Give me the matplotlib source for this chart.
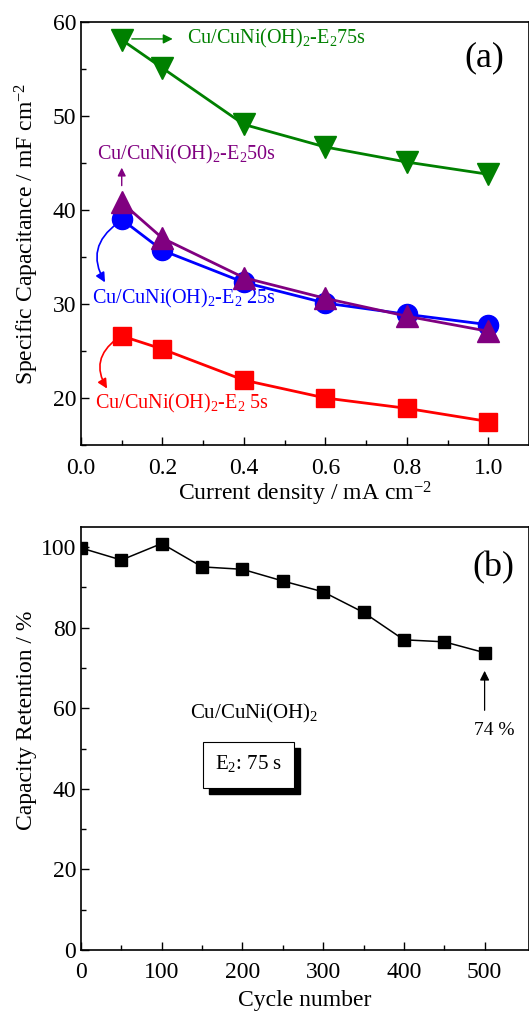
import matplotlib
matplotlib.use("Agg")
import matplotlib.pyplot as plt
from matplotlib.patches import Rectangle

plt.rcParams['font.family'] = ['Liberation Serif', 'DejaVu Serif']
plt.rcParams['mathtext.fontset'] = 'custom'
plt.rcParams['mathtext.rm'] = 'Liberation Serif'
plt.rcParams['mathtext.it'] = 'Liberation Serif:italic'
plt.rcParams['mathtext.bf'] = 'Liberation Serif:bold'

# ---- Data (a) ----
current_density = [0.1, 0.2, 0.4, 0.6, 0.8, 1.0]
cap_5s = [26.6, 25.2, 21.9, 20.0, 18.9, 17.5]
cap_25s = [39.0, 35.7, 32.3, 30.1, 28.9, 27.8]
cap_50s = [40.8, 37.0, 32.8, 30.6, 28.7, 27.1]
cap_75s = [58.1, 55.1, 49.1, 46.7, 45.1, 43.8]

# ---- Data (b) ----
cycles = [0, 50, 100, 150, 200, 250, 300, 350, 400, 450, 500]
retention = [99.8, 96.8, 100.9, 95.1, 94.5, 91.6, 88.9, 83.8, 77.0, 76.5, 73.8]

W, H = 529, 1011
fig = plt.figure(figsize=(W / 100, H / 100), dpi=100)

def frac_axes(l, r, t, b):
    return fig.add_axes([l / W, 1 - b / H, (r - l) / W, (b - t) / H])

ax1 = frac_axes(81, 529, 22, 445)
ax2 = frac_axes(81, 529, 527, 950)

green = '#008000'
purple = '#800080'
blue = '#0000FF'
red = '#FF0000'

lw = 2.0
ax1.plot(current_density, cap_75s, '-', color=green, lw=lw, marker='v', ms=16.5, zorder=3)
ax1.plot(current_density, cap_5s, '-', color=red, lw=lw, marker='s', ms=12.5, zorder=3)
ax1.plot(current_density, cap_25s, '-', color=blue, lw=lw, marker='o', ms=14.5, zorder=3)
ax1.plot(current_density, cap_50s, '-', color=purple, lw=lw, marker='^', ms=16.5, zorder=4)

ax1.set_xlim(0, 1.1)
ax1.set_ylim(15, 60)
ax1.set_xticks([0.0, 0.2, 0.4, 0.6, 0.8, 1.0])
ax1.set_xticklabels(['0.0', '0.2', '0.4', '0.6', '0.8', '1.0'])
ax1.set_xticks([0.1, 0.3, 0.5, 0.7, 0.9], minor=True)
ax1.set_yticks([20, 30, 40, 50, 60])
ax1.set_yticks([15, 25, 35, 45, 55], minor=True)
ax1.set_xlabel('Current density / mA cm$^{-2}$', fontsize=17, labelpad=1)
ax1.set_ylabel('Specific Capacitance / mF cm$^{-2}$', fontsize=17, labelpad=8)

fs_ann = 14.5
# 75s
ax1.annotate('', xy=(0.232, 58.2), xytext=(0.118, 58.2),
             arrowprops=dict(arrowstyle='-|>', color=green, lw=1.0, mutation_scale=14))
ax1.text(0.26, 58.2, 'Cu/CuNi(OH)$_2$-E$_2$75s', color=green, fontsize=fs_ann, va='center', ha='left')
# 50s
ax1.annotate('', xy=(0.1, 44.8), xytext=(0.1, 42.3),
             arrowprops=dict(arrowstyle='-|>', color=purple, lw=1.0, mutation_scale=12))
ax1.text(0.04, 45.9, 'Cu/CuNi(OH)$_2$-E$_2$50s', color=purple, fontsize=fs_ann, va='center', ha='left')
# 25s
ax1.annotate('', xy=(0.059, 32.3), xytext=(0.09, 38.6),
             arrowprops=dict(arrowstyle='-|>', color=blue, lw=1.2, mutation_scale=14,
                             connectionstyle='arc3,rad=0.45', shrinkA=0, shrinkB=0))
ax1.text(0.027, 30.6, 'Cu/CuNi(OH)$_2$-E$_2$ 25s', color=blue, fontsize=fs_ann, va='center', ha='left')
# 5s
ax1.annotate('', xy=(0.064, 21.0), xytext=(0.088, 26.3),
             arrowprops=dict(arrowstyle='-|>', color=red, lw=1.2, mutation_scale=14,
                             connectionstyle='arc3,rad=0.45', shrinkA=0, shrinkB=0))
ax1.text(0.034, 19.4, 'Cu/CuNi(OH)$_2$-E$_2$ 5s', color=red, fontsize=fs_ann, va='center', ha='left')

ax1.text(1.04, 56.2, '(a)', fontsize=26, ha='right', va='center')

# ---- (b) ----
ax2.plot(cycles, retention, '-', color='black', lw=1.1, marker='s', ms=8.5, zorder=3)
ax2.set_xlim(0, 555)
ax2.set_ylim(0, 105)
ax2.set_xticks([0, 100, 200, 300, 400, 500])
ax2.set_xticks([50, 150, 250, 350, 450], minor=True)
ax2.set_yticks([0, 20, 40, 60, 80, 100])
ax2.set_yticks([10, 30, 50, 70, 90], minor=True)
ax2.set_xlabel('Cycle number', fontsize=17, labelpad=5)
ax2.set_ylabel('Capacity Retention / %', fontsize=17)
ax2.yaxis.set_label_coords(-0.098, 0.544)

ax2.text(537, 95.0, '(b)', fontsize=26, ha='right', va='center')
ax2.text(214, 58.6, 'Cu/CuNi(OH)$_2$', fontsize=15, ha='center', va='center')

# shadowed box
bx0, bx1 = 151, 264
by0, by1 = 40.3, 51.7
dx, dy = 7.5, -1.6
ax2.add_patch(Rectangle((bx0 + dx, by0 + dy), bx1 - bx0, by1 - by0, facecolor='black',
                        edgecolor='black', zorder=4))
ax2.add_patch(Rectangle((bx0, by0), bx1 - bx0, by1 - by0, facecolor='white',
                        edgecolor='black', lw=0.8, zorder=5))
ax2.text((bx0 + bx1) / 2, (by0 + by1) / 2 + 0.3, 'E$_2$: 75 s', fontsize=15, ha='center',
         va='center', zorder=6)

ax2.annotate('', xy=(500, 69.3), xytext=(500, 59.5),
             arrowprops=dict(arrowstyle='-|>', color='black', lw=0.9, mutation_scale=14,
                             shrinkA=0, shrinkB=0))
ax2.text(512, 54.6, '74 %', fontsize=14, ha='center', va='center')

for ax in (ax1, ax2):
    for s in ax.spines.values():
        s.set_linewidth(1.2)
    ax.tick_params(which='both', direction='in', labelsize=17, width=1.0)
    ax.tick_params(which='major', length=6)
    ax.tick_params(which='minor', length=3.5)
    ax.tick_params(axis='x', pad=9)

fig.savefig('out.png', dpi=100)
